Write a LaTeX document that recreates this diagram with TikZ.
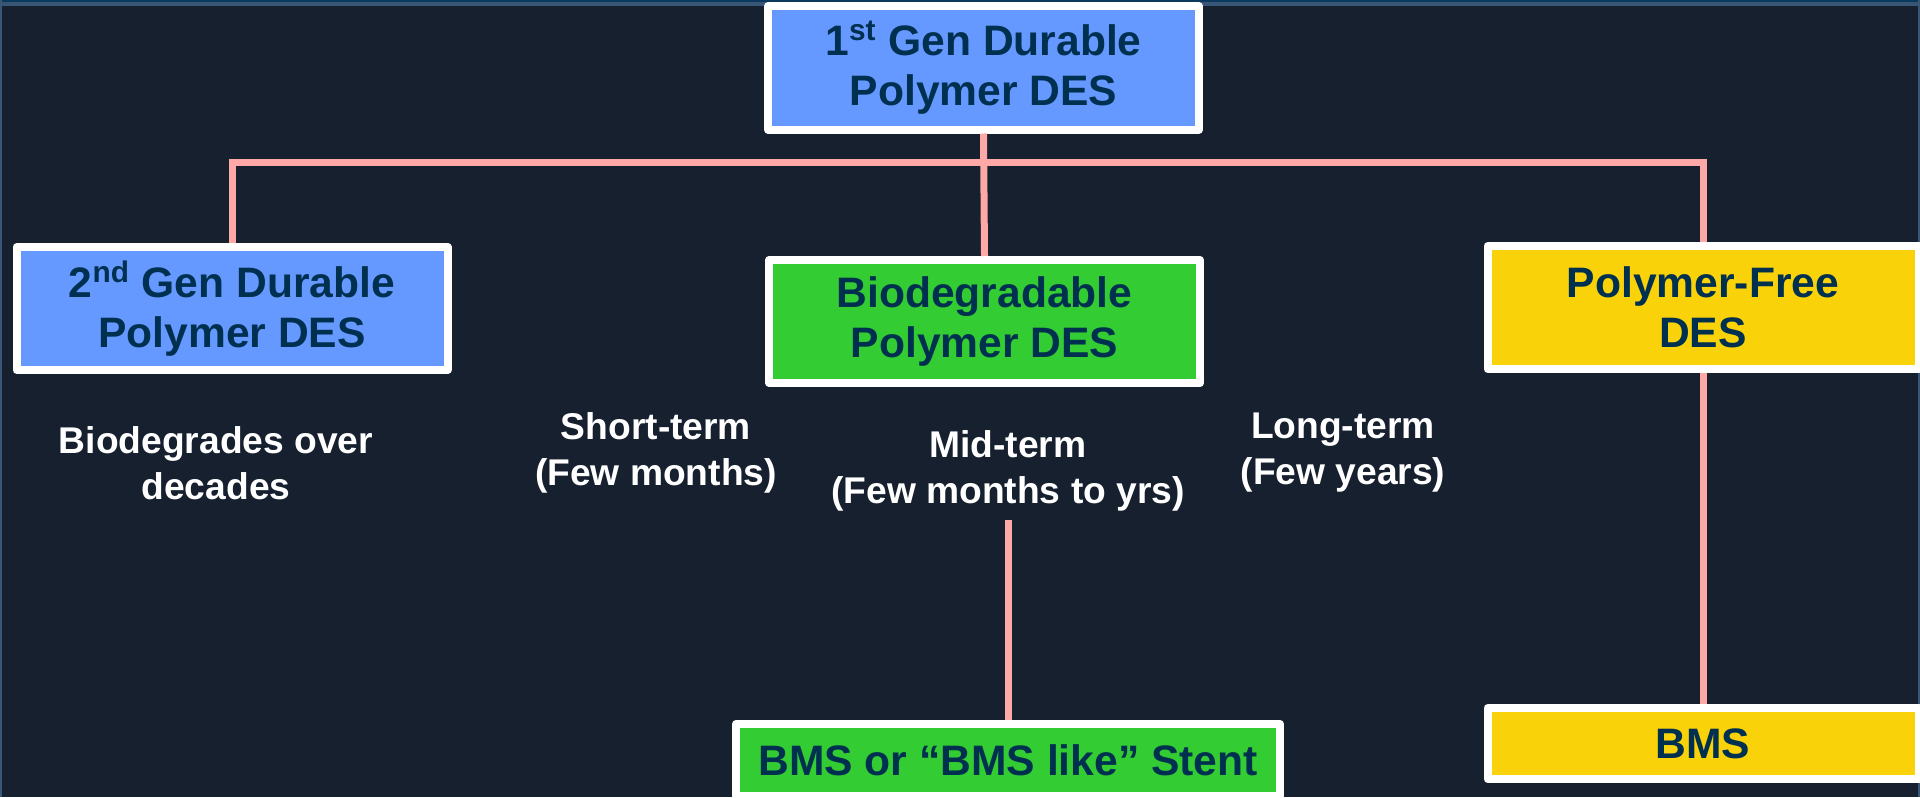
\documentclass[tikz,border=0pt]{standalone}
\usepackage{fontspec}
\setmainfont{Liberation Sans}
\usetikzlibrary{positioning}

\definecolor{bgnavy}{RGB}{22,32,46}
\definecolor{framegray}{RGB}{58,86,118}
\definecolor{frametop}{RGB}{12,58,94}
\definecolor{linkpink}{RGB}{255,168,168}
\definecolor{desblue}{RGB}{102,153,255}
\definecolor{desgreen}{RGB}{51,204,51}
\definecolor{desyellow}{RGB}{250,210,10}
\definecolor{boxtext}{RGB}{0,48,80}

\begin{document}
\begin{tikzpicture}[x=0.5pt,y=-0.5pt,
  desbox/.style={draw=white,line width=4pt,line join=round,text=boxtext,font=\fontsize{21.3}{25}\selectfont\bfseries,align=center,inner sep=0pt,minimum width=215.5pt,minimum height=61.5pt},
  note/.style={text=white,font=\fontsize{18.6}{23}\selectfont\bfseries,align=center,inner sep=0pt},
  conn/.style={draw=linkpink,line width=3.5pt}]
    \useasboundingbox (0,0) rectangle (1920,797);
    \clip (0,0) rectangle (1920,797);
    \fill[bgnavy] (0,0) rectangle (1920,797);
    \fill[framegray] (0,0) rectangle (1920,6);
    \fill[frametop] (0,0) rectangle (1920,2);
    \fill[framegray] (0,0) rectangle (2,797);
    \fill[framegray] (1918,0) rectangle (1920,797);

    \node[desbox,fill=desblue] (gen1) at (983.5,68) {1\textsuperscript{st} Gen Durable\\Polymer DES};
    \node[desbox,fill=desblue] (gen2) at (232,308.5) {2\textsuperscript{nd} Gen Durable\\Polymer DES};
    \node[desbox,fill=desgreen] (biodeg) at (984.5,321.5) {Biodegradable\\Polymer DES};
    \node[desbox,fill=desyellow] (free) at (1703,307.5) {Polymer-Free\\DES};
    \node[desbox,fill=desgreen,minimum width=272pt,minimum height=36pt] (stent) at (1008,760) {BMS or “BMS like” Stent};
    \node[desbox,fill=desyellow,minimum height=35.5pt] (bms) at (1703,743.5) {BMS};

    \node[note] (decades) at (216,463) {Biodegrades over\\decades};
    \node[note] (short) at (656,453) {Short-term\\(Few months)};
    \node[note] (mid) at (1008,471) {Mid-term\\(Few months to yrs)};
    \node[note] (long) at (1343,453) {Long-term\\(Few years)};

    \coordinate (bus) at (983.5,162);
    \draw[conn] (gen2.north) |- (bus) -| (free.north);
    \draw[conn] (gen1.south) -- (biodeg.north);
    \draw[conn] (free.south) -- (bms.north);
    \draw[conn,shorten <=4pt] (mid.south) -- (stent.north);
  \end{tikzpicture}
\end{document}
